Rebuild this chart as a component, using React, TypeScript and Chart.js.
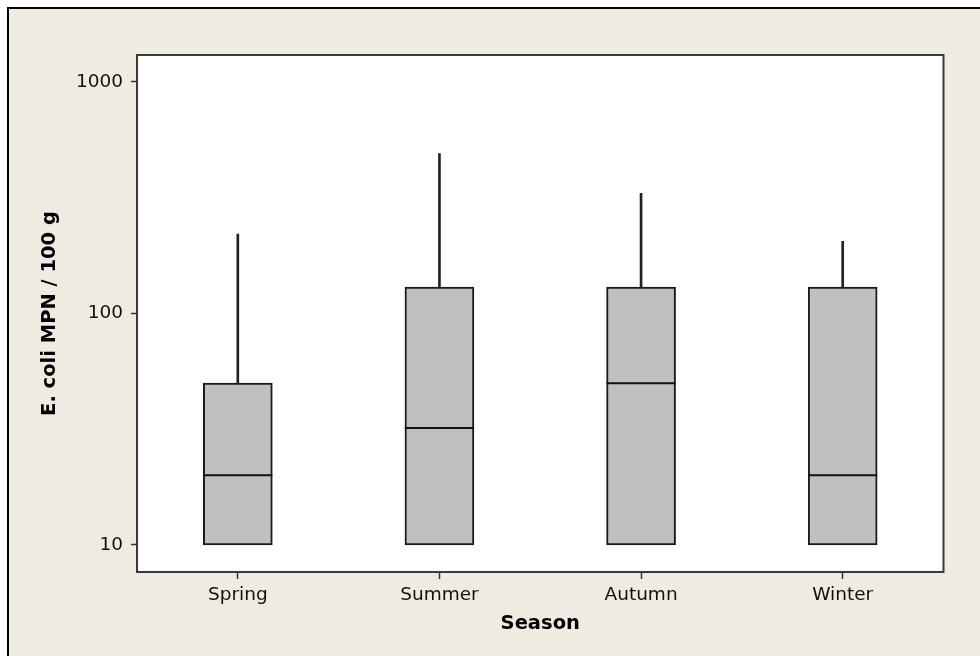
import { useEffect, useRef } from "react";
import { Chart, registerables } from "chart.js";

Chart.register(...registerables);

// ---- data ----
const seasons = ["Spring", "Summer", "Autumn", "Winter"];
const q1Values = [10, 10, 10, 10];
const medianValues = [20, 32, 50, 20];
const q3Values = [50, 130, 130, 130];
const whiskerMax = [220, 490, 330, 205];
const yTickValues = [10, 100, 1000];
const yAxisMin = 7.64;
const yAxisMax = 1308;
const xTitle = "Season";
const yTitle = "E. coli MPN / 100 g";

const BEIGE = "rgb(239,235,226)";

const framePlugin = {
  id: "plotFrame",
  beforeDraw(chart: any) {
    const { ctx, chartArea } = chart;
    ctx.save();
    ctx.fillStyle = "#ffffff";
    ctx.fillRect(chartArea.left, chartArea.top, chartArea.right - chartArea.left, chartArea.bottom - chartArea.top);
    ctx.restore();
  },
  afterDraw(chart: any) {
    const { ctx, chartArea } = chart;
    ctx.save();
    ctx.strokeStyle = "#3a3a3a";
    ctx.lineWidth = 2;
    ctx.strokeRect(chartArea.left, chartArea.top, chartArea.right - chartArea.left, chartArea.bottom - chartArea.top);
    ctx.restore();
  },
};

export default function App() {
  const canvasRef = useRef<HTMLCanvasElement | null>(null);

  useEffect(() => {
    if (!canvasRef.current) return;
    Chart.defaults.font.family = "'DejaVu Sans', Verdana, sans-serif";
    const chart = new Chart(canvasRef.current, {
      type: "bar",
      data: {
        labels: seasons,
        datasets: [
          {
            type: "line",
            label: "Median",
            data: medianValues,
            showLine: false,
            pointStyle: "line",
            pointRadius: 34.5,
            pointHoverRadius: 34.5,
            pointBorderWidth: 2,
            pointBorderColor: "#111",
            pointBackgroundColor: "#111",
            borderColor: "#111",
            order: 0,
          } as any,
          {
            type: "bar",
            label: "Box",
            data: q1Values.map((q, i) => [q, q3Values[i]]),
            backgroundColor: "#c0c0c0",
            borderColor: "#1a1a1a",
            borderWidth: 2,
            borderSkipped: false,
            barThickness: 69,
            grouped: false,
            order: 1,
          } as any,
          {
            type: "bar",
            label: "Whisker",
            data: q3Values.map((q, i) => [q, whiskerMax[i]]),
            backgroundColor: "#222",
            borderWidth: 0,
            barThickness: 2,
            grouped: false,
            order: 2,
          } as any,
        ],
      },
      options: {
        animation: false,
        responsive: false,
        devicePixelRatio: 1,
        events: [],
        layout: { padding: { left: 0, top: 55, right: 36, bottom: 0 } },
        plugins: {
          legend: { display: false },
          tooltip: { enabled: false },
        },
        scales: {
          x: {
            type: "category",
            offset: true,
            grid: {
              display: true,
              offset: false,
              drawOnChartArea: false,
              drawTicks: true,
              tickLength: 7,
              tickColor: "#333",
              tickWidth: 1.5,
            },
            border: { display: false },
            ticks: {
              color: "#111",
              font: { size: 18.5 },
              padding: 5,
              maxRotation: 0,
            },
            title: {
              display: true,
              text: xTitle,
              color: "#000",
              font: { size: 19.5, weight: "bold" },
              padding: { top: 0, bottom: 20 },
            },
            afterFit(scale: any) {
              scale.height = 84;
            },
          },
          y: {
            type: "logarithmic",
            min: yAxisMin,
            max: yAxisMax,
            grid: {
              display: true,
              drawOnChartArea: false,
              drawTicks: true,
              tickLength: 6,
              tickColor: "#333",
              tickWidth: 1.5,
            },
            border: { display: false },
            ticks: {
              color: "#111",
              font: { size: 18.5 },
              padding: 8,
              callback: (v: any) => String(v),
            },
            afterBuildTicks(scale: any) {
              scale.ticks = yTickValues.map((v) => ({ value: v }));
            },
            title: {
              display: true,
              text: yTitle,
              color: "#000",
              font: { size: 19.5, weight: "bold" },
              padding: { top: 38, bottom: 0 },
            },
            afterFit(scale: any) {
              scale.width = 137;
            },
          },
        },
      } as any,
      plugins: [framePlugin],
    });
    return () => chart.destroy();
  }, []);

  return (
    <div
      style={{
        position: "fixed",
        left: 0,
        top: 0,
        width: 980,
        height: 656,
        background: "#fff",
        overflow: "hidden",
      }}
    >
      <div
        style={{
          position: "absolute",
          left: 7,
          top: 7,
          width: 1000,
          height: 700,
          borderLeft: "2px solid #000",
          borderTop: "2px solid #000",
          background: BEIGE,
        }}
      />
      <canvas
        ref={canvasRef}
        width={980}
        height={656}
        style={{ position: "absolute", left: 0, top: 0, width: 980, height: 656 }}
      />
    </div>
  );
}
